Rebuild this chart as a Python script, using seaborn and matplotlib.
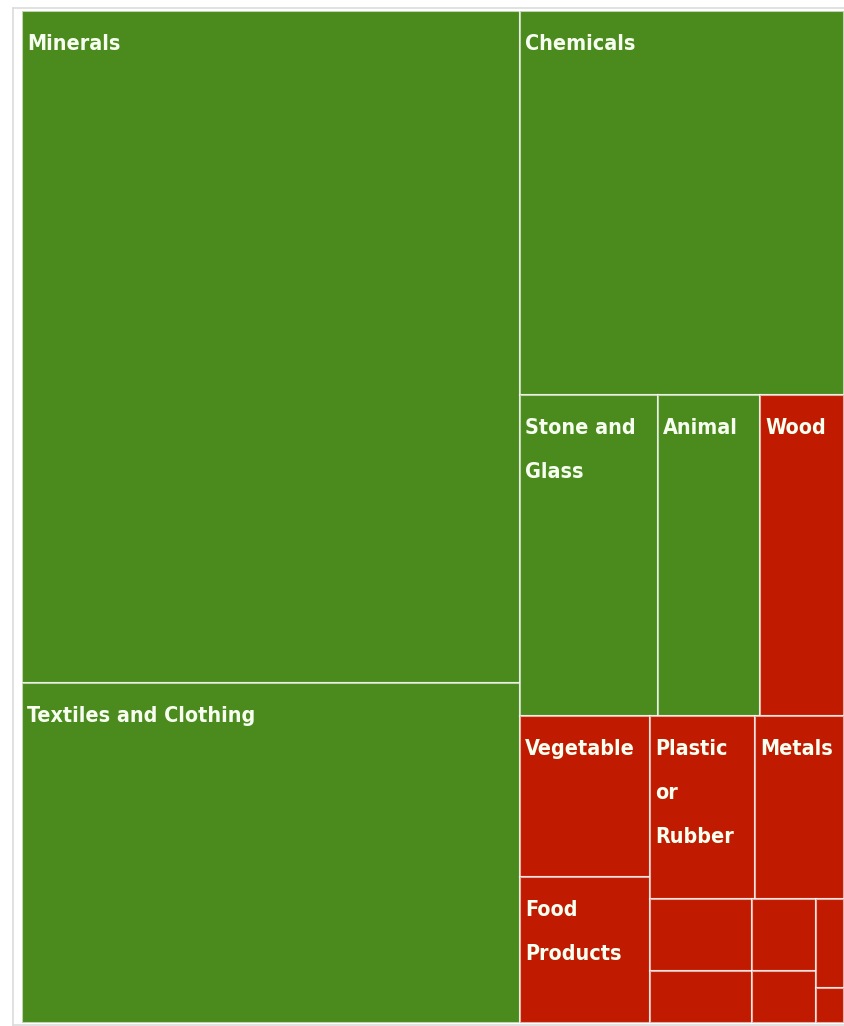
import os
import matplotlib
matplotlib.use("Agg")
import matplotlib.pyplot as plt
import seaborn as sns
from matplotlib import font_manager
from matplotlib.font_manager import FontProperties

# ---------------- data ----------------
categories = ["Minerals", "Textiles and Clothing", "Chemicals",
              "Stone and Glass", "Animal", "Wood",
              "Vegetable", "Food Products", "Plastic or Rubber", "Metals",
              "Other 1", "Other 2", "Other 3", "Other 4", "Other 5", "Other 6"]
values = [334.2, 168.8, 124.1,
          44.2, 32.6, 26.9,
          20.9, 19.0, 19.2, 16.3,
          7.3, 5.3, 4.6, 3.3, 2.5, 1.0]
trend = ["up", "up", "up",
         "up", "up", "down",
         "down", "down", "down", "down",
         "down", "down", "down", "down", "down", "down"]
show_label = [True] * 10 + [False] * 6

# nesting of the treemap ('h' = side by side, 'v' = stacked)
tree = ("h", [
    ("v", ["Minerals", "Textiles and Clothing"]),
    ("v", ["Chemicals",
           ("h", ["Stone and Glass", "Animal", "Wood"]),
           ("h", [("v", ["Vegetable", "Food Products"]),
                  ("v", [("h", ["Plastic or Rubber", "Metals"]),
                         ("h", [("v", ["Other 1", "Other 2"]),
                                ("v", ["Other 3", "Other 4"]),
                                ("v", ["Other 5", "Other 6"])])])])]),
])

value_of = dict(zip(categories, values))


def node_sum(node):
    if isinstance(node, str):
        return value_of[node]
    return sum(node_sum(c) for c in node[1])


def layout(node, x, y, w, h, out):
    if isinstance(node, str):
        out[node] = (x, y, w, h)
        return
    orient, children = node
    total = node_sum(node)
    pos = 0.0
    for c in children:
        frac = node_sum(c) / total
        if orient == "h":
            layout(c, x + pos * w, y, w * frac, h, out)
        else:
            layout(c, x, y + pos * h, w, h * frac, out)
        pos += frac


rects = {}
layout(tree, 0.0, 0.0, 1.0, 1.0, rects)

# ---------------- style ----------------
sns.set_theme(style="white")

W, H = 844, 1026
fig = plt.figure(figsize=(W / 100, H / 100), dpi=100)
fig.patch.set_facecolor("white")
renderer = fig.canvas.get_renderer()


def measure(fp, s, size):
    f = fp.copy(); f.set_size(size)
    t = fig.text(0, 0, s, fontproperties=f, va="baseline")
    bb = t.get_window_extent(renderer)
    t.remove()
    return bb


# narrow / condensed bold-ish face, like the reference
pref = ["LiberationSansNarrow-Bold",
        "NotoSans-ExtraCondensedSemiBold", "NotoSans-ExtraCondensedBold",
        "NotoSans-CondensedSemiBold", "NotoSans-CondensedBold",
        "NotoSans-SemiCondensedSemiBold", "NotoSans-SemiCondensedBold",
        "DejaVuSansCondensed-Bold",
        "LiberationSansNarrow-Regular", "NotoSans-ExtraCondensed",
        "NotoSans-Condensed", "DejaVuSansCondensed"]
files = {os.path.splitext(os.path.basename(f.fname))[0]: f.fname
         for f in font_manager.fontManager.ttflist}
fp = None
for p in pref:
    if p in files:
        fp = FontProperties(fname=files[p])
        break
if fp is None:
    fp = FontProperties(family=["Liberation Sans", "DejaVu Sans"], weight="bold")

TARGET_W = 228.0
w20 = measure(fp, "Textiles and Clothing", 20).width
fsize = 20 * TARGET_W / w20
cap = measure(fp, "H", fsize).height
first_base = 28 + cap / 2 + 1        # baseline of first line below cell top (px)
PITCH = 44.0                         # line pitch (px)

# light outer frame
frame = fig.add_axes([13 / W, 1 - 1025 / H, (W - 13 + 5) / W, (1025 - 8) / H])
frame.set_xticks([]); frame.set_yticks([])
frame.set_facecolor("white")
for s in ["left", "top", "bottom"]:
    frame.spines[s].set_color("#dcdcdc")
    frame.spines[s].set_linewidth(1.2)
frame.spines["right"].set_visible(False)

ax_l, ax_t, ax_r, ax_b = 22, 11, 844, 1023
ax = fig.add_axes([ax_l / W, 1 - ax_b / H, (ax_r - ax_l) / W, (ax_b - ax_t) / H])
ax.set_xlim(0, 1)
ax.set_ylim(1, 0)
ax.axis("off")

colors = {"up": "#4b8a1d", "down": "#c01a00"}
ax_w_px = ax_r - ax_l
fpl = fp.copy(); fpl.set_size(fsize)


def wrap(name, avail_px):
    lines, cur = [], ""
    for word in name.split():
        trial = (cur + " " + word).strip()
        if cur and measure(fp, trial, fsize).width > avail_px:
            lines.append(cur)
            cur = word
        else:
            cur = trial
    lines.append(cur)
    return lines


for name, tr, lab in zip(categories, trend, show_label):
    x, y, w, h = rects[name]
    ax.bar(x, h, width=w, bottom=y, align="edge", color=colors[tr],
           edgecolor=(1, 1, 1, 0.65), linewidth=1.5)
    if lab:
        for k, line in enumerate(wrap(name, w * ax_w_px - 8)):
            ax.annotate(line, xy=(x, y),
                        xytext=(5, -(first_base + k * PITCH)),
                        textcoords="offset pixels", ha="left", va="baseline",
                        color="#f6fff0", fontproperties=fpl)

fig.savefig("out.png", dpi=100)
